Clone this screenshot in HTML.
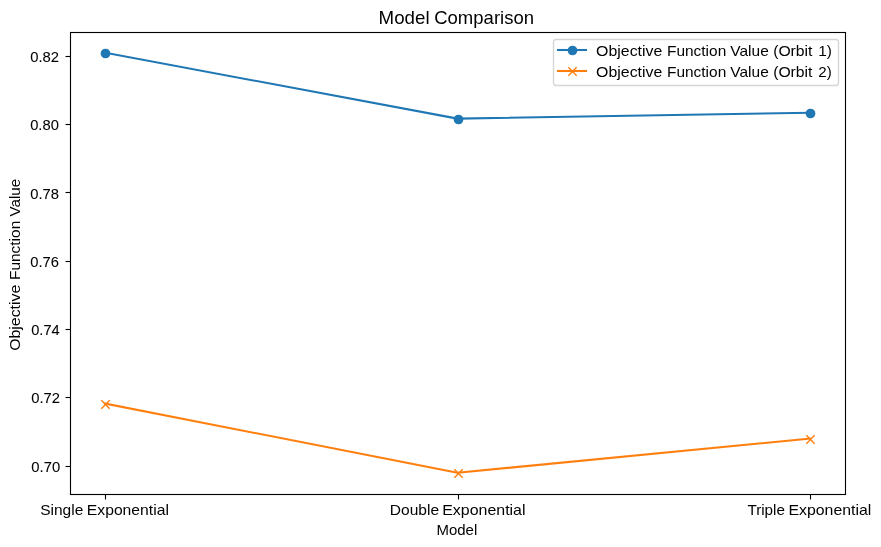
<!DOCTYPE html>
<html lang="en">
<head>
<meta charset="utf-8">
<title>Model Comparison</title>
<style>
html,body{margin:0;padding:0;background:#ffffff;overflow:hidden;}
body{width:881px;height:547px;overflow:hidden;font-family:"Liberation Sans",sans-serif;}
svg{display:block;}
text{font-family:"Liberation Sans",sans-serif;fill:#000000;}
</style>
</head>
<body>
<svg width="881" height="547" viewBox="0 0 881 547">
<rect x="0" y="0" width="881" height="547" fill="#ffffff"/>
<!-- series: Orbit 1 -->
<polyline points="105.227,52.73 457.5,118.636 809.773,112.725" fill="none" stroke="#1f77b4" stroke-width="2.083" stroke-linejoin="round" stroke-linecap="square"/>
<circle cx="105.5" cy="53.5" r="4.86" fill="#1f77b4"/>
<circle cx="458.5" cy="119.5" r="4.86" fill="#1f77b4"/>
<circle cx="810.5" cy="113.5" r="4.86" fill="#1f77b4"/>
<!-- series: Orbit 2 -->
<polyline points="105.227,403.613 457.5,472.73 809.773,438.633" fill="none" stroke="#ff7f0e" stroke-width="2.083" stroke-linejoin="round" stroke-linecap="square"/>
<path d="M101.333,400.333L109.667,408.667M101.333,408.667L109.667,400.333" stroke="#ff7f0e" stroke-width="1.389" fill="none"/>
<path d="M454.333,469.333L462.667,477.667M454.333,477.667L462.667,469.333" stroke="#ff7f0e" stroke-width="1.389" fill="none"/>
<path d="M806.333,435.333L814.667,443.667M806.333,443.667L814.667,435.333" stroke="#ff7f0e" stroke-width="1.389" fill="none"/>
<!-- ticks -->
<line x1="65.5" y1="56.5" x2="70.5" y2="56.5" stroke="#000" stroke-width="1.111"/>
<line x1="65.5" y1="124.5" x2="70.5" y2="124.5" stroke="#000" stroke-width="1.111"/>
<line x1="65.5" y1="192.5" x2="70.5" y2="192.5" stroke="#000" stroke-width="1.111"/>
<line x1="65.5" y1="261.5" x2="70.5" y2="261.5" stroke="#000" stroke-width="1.111"/>
<line x1="65.5" y1="329.5" x2="70.5" y2="329.5" stroke="#000" stroke-width="1.111"/>
<line x1="65.5" y1="397.5" x2="70.5" y2="397.5" stroke="#000" stroke-width="1.111"/>
<line x1="65.5" y1="466.5" x2="70.5" y2="466.5" stroke="#000" stroke-width="1.111"/>
<line x1="105.5" y1="494.5" x2="105.5" y2="499.5" stroke="#000" stroke-width="1.111"/>
<line x1="458.5" y1="494.5" x2="458.5" y2="499.5" stroke="#000" stroke-width="1.111"/>
<line x1="810.5" y1="494.5" x2="810.5" y2="499.5" stroke="#000" stroke-width="1.111"/>
<!-- axes frame -->
<rect x="70.5" y="32.5" width="775" height="462" fill="none" stroke="#000" stroke-width="1.111" stroke-linejoin="miter"/>
<!-- legend -->
<rect x="553.5" y="39.5" width="285" height="46" rx="2.78" ry="2.78" fill="#ffffff" fill-opacity="0.8" stroke="#cccccc" stroke-opacity="0.8" stroke-width="1.389"/>
<line x1="556.96" y1="50" x2="587.04" y2="50" stroke="#1f77b4" stroke-width="2.083"/>
<circle cx="572.5" cy="50.5" r="4.86" fill="#1f77b4"/>
<line x1="556.96" y1="71" x2="587.04" y2="71" stroke="#ff7f0e" stroke-width="2.083"/>
<path d="M568.333,67.333L576.667,75.667M568.333,75.667L576.667,67.333" stroke="#ff7f0e" stroke-width="1.389" fill="none"/>
<!-- text (group opacity forces grayscale antialiasing) -->
<g opacity="0.999">
<text x="378.612" y="24" font-size="18.2px" textLength="50.997" lengthAdjust="spacingAndGlyphs">Model</text>
<text x="434.196" y="24" font-size="18.2px" textLength="99.867" lengthAdjust="spacingAndGlyphs">Comparison</text>
<text x="40.191" y="515" font-size="14.6px" textLength="43.103" lengthAdjust="spacingAndGlyphs">Single</text>
<text x="86.841" y="515" font-size="14.6px" textLength="82.082" lengthAdjust="spacingAndGlyphs">Exponential</text>
<text x="389.844" y="515" font-size="14.6px" textLength="49.224" lengthAdjust="spacingAndGlyphs">Double</text>
<text x="442.216" y="515" font-size="14.6px" textLength="83.332" lengthAdjust="spacingAndGlyphs">Exponential</text>
<text x="747.413" y="515" font-size="14.6px" textLength="37.503" lengthAdjust="spacingAndGlyphs">Triple</text>
<text x="788.466" y="515" font-size="14.6px" textLength="82.832" lengthAdjust="spacingAndGlyphs">Exponential</text>
<text x="436.523" y="535" font-size="14.6px" textLength="40.727" lengthAdjust="spacingAndGlyphs">Model</text>
<text x="596.137" y="56" font-size="14.6px" textLength="66.18" lengthAdjust="spacingAndGlyphs">Objective</text>
<text x="667.016" y="56" font-size="14.6px" textLength="59.211" lengthAdjust="spacingAndGlyphs">Function</text>
<text x="730.311" y="56" font-size="14.6px" textLength="38.46" lengthAdjust="spacingAndGlyphs">Value</text>
<text x="773.143" y="56" font-size="14.6px" textLength="39.348" lengthAdjust="spacingAndGlyphs">(Orbit</text>
<text x="818.31" y="56" font-size="14.6px" textLength="13.682" lengthAdjust="spacingAndGlyphs">1)</text>
<text x="596.137" y="77" font-size="14.6px" textLength="66.18" lengthAdjust="spacingAndGlyphs">Objective</text>
<text x="667.016" y="77" font-size="14.6px" textLength="59.211" lengthAdjust="spacingAndGlyphs">Function</text>
<text x="730.311" y="77" font-size="14.6px" textLength="38.46" lengthAdjust="spacingAndGlyphs">Value</text>
<text x="773.143" y="77" font-size="14.6px" textLength="39.348" lengthAdjust="spacingAndGlyphs">(Orbit</text>
<text x="818.38" y="77" font-size="14.6px" textLength="13.412" lengthAdjust="spacingAndGlyphs">2)</text>
<text transform="translate(20,216.564) rotate(-90)" font-size="14.6px" textLength="37.71" lengthAdjust="spacingAndGlyphs">Value</text>
<text transform="translate(20,279.984) rotate(-90)" font-size="14.6px" textLength="59.211" lengthAdjust="spacingAndGlyphs">Function</text>
<text transform="translate(20,350.863) rotate(-90)" font-size="14.6px" textLength="66.18" lengthAdjust="spacingAndGlyphs">Objective</text>
<text x="30.172" y="62" stroke="#000" stroke-width="0.08" font-size="14.6px" textLength="28.823" lengthAdjust="spacingAndGlyphs">0.82</text>
<text x="30.175" y="130" stroke="#000" stroke-width="0.08" font-size="14.6px" textLength="28.65" lengthAdjust="spacingAndGlyphs">0.80</text>
<text x="30.174" y="199" stroke="#000" stroke-width="0.08" font-size="14.6px" textLength="28.718" lengthAdjust="spacingAndGlyphs">0.78</text>
<text x="30.173" y="267" stroke="#000" stroke-width="0.08" font-size="14.6px" textLength="28.725" lengthAdjust="spacingAndGlyphs">0.76</text>
<text x="31.178" y="335" stroke="#000" stroke-width="0.08" font-size="14.6px" textLength="28.501" lengthAdjust="spacingAndGlyphs">0.74</text>
<text x="31.193" y="403" stroke="#000" stroke-width="0.08" font-size="14.6px" textLength="28.775" lengthAdjust="spacingAndGlyphs">0.72</text>
<text x="31.3" y="472" stroke="#000" stroke-width="0.08" font-size="14.6px" textLength="28.9" lengthAdjust="spacingAndGlyphs">0.70</text>
</g>
</svg>
</body>
</html>
